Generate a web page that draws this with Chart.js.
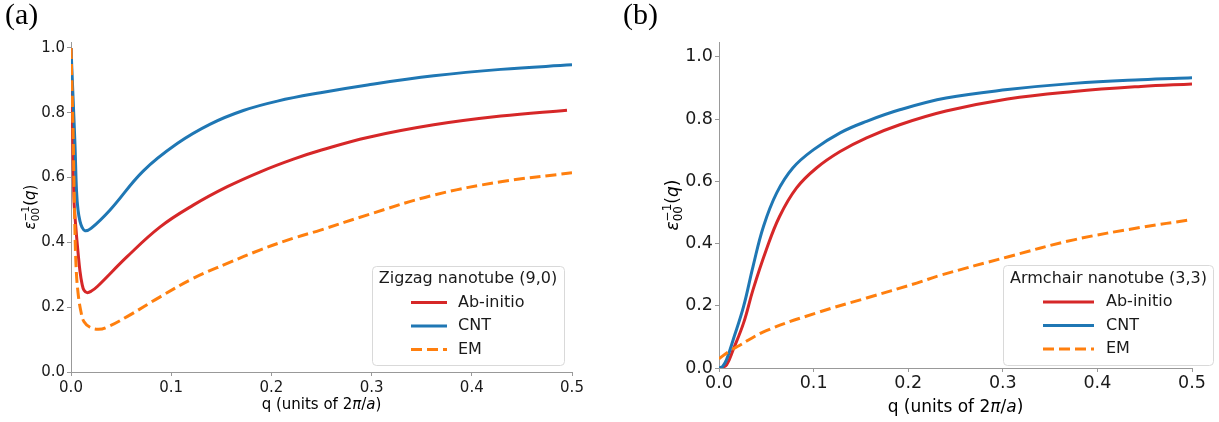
<!DOCTYPE html>
<html>
<head>
<meta charset="utf-8">
<script src="https://cdn.jsdelivr.net/npm/chart.js@4.4.1/dist/chart.umd.min.js"></script>
<style>
    html, body { margin: 0; padding: 0; background: #fff; }
    #wrap { position: relative; width: 1219px; height: 422px; }
    .panel { position: absolute; top: 0; height: 422px; }
    #panel-a { left: 0; width: 600px; }
    #panel-b { left: 600px; width: 619px; }
</style>
</head>
<body>
<div id="wrap">
    <div class="panel" id="panel-a"><canvas id="chart-a" width="600" height="422"></canvas></div>
    <div class="panel" id="panel-b"><canvas id="chart-b" width="619" height="422"></canvas></div>
</div>
<script>
// (a) Zigzag nanotube (9,0)
const zzAbQ = [0, 0.0015, 0.003, 0.005, 0.007, 0.009, 0.011, 0.013, 0.016, 0.02, 0.026, 0.056, 0.089, 0.122, 0.156, 0.189, 0.222, 0.25, 0.296, 0.362, 0.429, 0.495];
const zzAbV = [1.0, 0.76, 0.53, 0.44, 0.37, 0.31, 0.272, 0.252, 0.245, 0.249, 0.263, 0.356, 0.448, 0.515, 0.572, 0.618, 0.657, 0.685, 0.724, 0.763, 0.79, 0.808];
const zzCntQ = [0, 0.002, 0.004, 0.0055, 0.007, 0.009, 0.011, 0.014, 0.02, 0.039, 0.072, 0.106, 0.139, 0.172, 0.206, 0.249, 0.296, 0.362, 0.429, 0.5];
const zzCntV = [1.0, 0.85, 0.7, 0.56, 0.5, 0.465, 0.447, 0.436, 0.443, 0.5, 0.62, 0.705, 0.765, 0.807, 0.836, 0.862, 0.886, 0.914, 0.934, 0.948];
const zzEmQ = [0, 0.002, 0.0035, 0.005, 0.007, 0.01, 0.013, 0.019, 0.027, 0.035, 0.056, 0.089, 0.122, 0.156, 0.189, 0.222, 0.249, 0.296, 0.362, 0.429, 0.5];
const zzEmV = [1.0, 0.75, 0.5, 0.33, 0.245, 0.185, 0.155, 0.138, 0.132, 0.137, 0.171, 0.232, 0.289, 0.335, 0.377, 0.413, 0.438, 0.485, 0.546, 0.587, 0.615];

// (b) Armchair nanotube (3,3)
const acAbQ = [0.002, 0.008, 0.015, 0.026, 0.036, 0.05, 0.064, 0.082, 0.103, 0.128, 0.156, 0.191, 0.24, 0.305, 0.375, 0.446, 0.5];
const acAbV = [0, 0.01, 0.059, 0.145, 0.252, 0.38, 0.487, 0.579, 0.643, 0.696, 0.74, 0.782, 0.826, 0.865, 0.889, 0.905, 0.913];
const acCntQ = [0, 0.004, 0.008, 0.015, 0.026, 0.036, 0.047, 0.061, 0.078, 0.1, 0.128, 0.156, 0.191, 0.24, 0.305, 0.375, 0.446, 0.5];
const acCntV = [0, 0.006, 0.027, 0.091, 0.198, 0.327, 0.455, 0.563, 0.643, 0.702, 0.756, 0.793, 0.83, 0.868, 0.895, 0.915, 0.927, 0.933];
const acEmQ = [0, 0.01, 0.02, 0.05, 0.103, 0.156, 0.209, 0.234, 0.305, 0.375, 0.446, 0.5];
const acEmV = [0.03, 0.052, 0.07, 0.12, 0.177, 0.225, 0.273, 0.298, 0.357, 0.412, 0.452, 0.477];

const seriesLabels = ['Ab-initio', 'CNT', 'EM'];
const xTicks = [0, 0.1, 0.2, 0.3, 0.4, 0.5];
const yTicks = [0, 0.2, 0.4, 0.6, 0.8, 1.0];

const chartColors = ['#d62728', '#1f77b4', '#ff7f0e'];
const axisGray = '#999999';
const FONT = "'DejaVu Sans', sans-serif";

function toPoints(q, v) {
    return q.map((x, i) => ({ x: x, y: v[i] }));
}

function makeDatasets(ab, cnt, em) {
    return [ab, cnt, em].map((pts, i) => ({
        label: seriesLabels[i],
        data: pts,
        borderColor: chartColors[i],
        backgroundColor: chartColors[i],
        borderWidth: 3,
        borderDash: i === 2 ? [11, 5] : [],
        pointRadius: 0,
        fill: false,
        tension: 0.4,
        order: 2 - i
    }));
}

function fontStr(size, italic) {
    return (italic ? 'italic ' : '') + size + 'px ' + FONT;
}

// runs: {t, it} plain pieces, or {sup, sub} stacked scripts
function runWidth(ctx, run, size) {
    if (run.sup !== undefined) {
        ctx.font = fontStr(size * 0.7, false);
        return Math.max(ctx.measureText(run.sup).width, ctx.measureText(run.sub).width);
    }
    ctx.font = fontStr(size, run.it);
    return ctx.measureText(run.t).width;
}

function drawRuns(ctx, runs, size, x, y) {
    let cx = x;
    runs.forEach(run => {
        const w = runWidth(ctx, run, size);
        if (run.sup !== undefined) {
            ctx.font = fontStr(size * 0.7, false);
            ctx.fillText(run.sup, cx, y - size * 0.42);
            ctx.fillText(run.sub, cx, y + size * 0.25);
        } else {
            ctx.font = fontStr(size, run.it);
            ctx.fillText(run.t, cx, y);
        }
        cx += w;
    });
}

function totalWidth(ctx, runs, size) {
    return runs.reduce((s, r) => s + runWidth(ctx, r, size), 0);
}

const xTitleRuns = [{ t: 'q (units of 2' }, { t: 'π', it: true }, { t: '/' }, { t: 'a', it: true }, { t: ')' }];
const yTitleRuns = [{ t: 'ε', it: true }, { sup: '−1', sub: '00' }, { t: '(' }, { t: 'q', it: true }, { t: ')' }];

const decorPlugin = {
    id: 'decor',
    afterDraw(chart, args, o) {
        const ctx = chart.ctx;
        const area = chart.chartArea;
        ctx.save();
        ctx.fillStyle = '#000';
        ctx.textBaseline = 'alphabetic';
        ctx.textAlign = 'left';

        // panel label
        ctx.font = o.labelSize + "px 'Liberation Serif', serif";
        ctx.fillText(o.label, o.labelX, o.labelY);

        // x title
        const xw = totalWidth(ctx, xTitleRuns, o.titleSize);
        drawRuns(ctx, xTitleRuns, o.titleSize, (area.left + area.right) / 2 - xw / 2, o.xTitleY);

        // y title (rotated)
        const yw = totalWidth(ctx, yTitleRuns, o.titleSize);
        ctx.save();
        ctx.translate(o.yTitleX, (area.top + area.bottom) / 2);
        ctx.rotate(-Math.PI / 2);
        drawRuns(ctx, yTitleRuns, o.titleSize, -yw / 2, 0);
        ctx.restore();

        // legend
        const lg = o.legend;
        ctx.beginPath();
        ctx.roundRect(lg.box[0] + 0.5, lg.box[1] + 0.5, lg.box[2], lg.box[3], 4);
        ctx.fillStyle = 'rgba(255,255,255,0.8)';
        ctx.fill();
        ctx.strokeStyle = '#d9d9d9';
        ctx.lineWidth = 1;
        ctx.stroke();

        ctx.fillStyle = '#1a1a1a';
        ctx.font = fontStr(16, false);
        ctx.textBaseline = 'middle';
        ctx.textAlign = 'center';
        ctx.fillText(lg.title, lg.titleX, lg.titleY);
        ctx.textAlign = 'left';
        chart.data.datasets.forEach((ds, i) => {
            const y = lg.rowY[i];
            ctx.beginPath();
            ctx.strokeStyle = ds.borderColor;
            ctx.lineWidth = ds.borderWidth;
            ctx.setLineDash(ds.borderDash);
            ctx.moveTo(lg.lineX[0], y);
            ctx.lineTo(lg.lineX[1], y);
            ctx.stroke();
            ctx.setLineDash([]);
            ctx.fillText(ds.label, lg.textX, y);
        });
        ctx.restore();
    }
};

function makeScales(o) {
    const common = (size) => ({
        type: 'linear',
        grid: { drawOnChartArea: false, drawTicks: true, tickLength: 4, color: axisGray, lineWidth: 1 },
        border: { display: true, color: axisGray, width: 1 },
        ticks: {
            includeBounds: false,
            autoSkip: false,
            maxRotation: 0,
            color: '#1a1a1a',
            font: { family: FONT, size: size },
            callback: v => v.toFixed(1)
        }
    });
    const x = common(o.tickSize);
    x.min = xTicks[0];
    x.max = xTicks[xTicks.length - 1];
    x.ticks.stepSize = 0.1;
    x.ticks.padding = o.xTickPad;
    x.afterBuildTicks = s => { s.ticks = xTicks.map(v => ({ value: v })); };
    x.afterFit = s => { s.height = o.xAxisH; };
    const y = common(o.tickSize);
    y.min = 0;
    y.max = o.yMax;
    y.ticks.stepSize = 0.2;
    y.ticks.padding = 2;
    y.afterBuildTicks = s => { s.ticks = yTicks.map(v => ({ value: v })); };
    y.afterFit = s => { s.width = o.yAxisW; };
    return { x: x, y: y };
}

function makeChart(id, datasets, o) {
    return new Chart(document.getElementById(id), {
        type: 'line',
        data: { datasets: datasets },
        options: {
            responsive: false,
            animation: false,
            devicePixelRatio: 1,
            layout: { padding: o.padding },
            scales: makeScales(o),
            plugins: {
                legend: { display: false },
                tooltip: { enabled: false },
                decor: o.decor
            }
        },
        plugins: [decorPlugin]
    });
}

makeChart('chart-a',
    makeDatasets(toPoints(zzAbQ, zzAbV), toPoints(zzCntQ, zzCntV), toPoints(zzEmQ, zzEmV)),
    {
        padding: { left: 0, right: 28, top: 42, bottom: 0 },
        yAxisW: 71, xAxisH: 50, yMax: 1.0185,
        tickSize: 15, xTickPad: 3,
        decor: {
            label: '(a)', labelSize: 30, labelX: 5, labelY: 24,
            titleSize: 15, xTitleY: 409, yTitleX: 35,
            legend: {
                box: [372, 266, 192, 99],
                title: 'Zigzag nanotube (9,0)', titleX: 468, titleY: 279,
                rowY: [302.5, 326, 349.5], lineX: [411, 447], textX: 458
            }
        }
    });

makeChart('chart-b',
    makeDatasets(toPoints(acAbQ, acAbV), toPoints(acCntQ, acCntV), toPoints(acEmQ, acEmV)),
    {
        padding: { left: 0, right: 27, top: 42, bottom: 0 },
        yAxisW: 119, xAxisH: 54, yMax: 1.048,
        tickSize: 17.5, xTickPad: 1,
        decor: {
            label: '(b)', labelSize: 30, labelX: 23, labelY: 24,
            titleSize: 17, xTitleY: 412, yTitleX: 78,
            legend: {
                box: [403, 265, 210, 100],
                title: 'Armchair nanotube (3,3)', titleX: 508.5, titleY: 279,
                rowY: [302, 325.5, 349], lineX: [443, 494], textX: 506
            }
        }
    });
</script>
</body>
</html>
